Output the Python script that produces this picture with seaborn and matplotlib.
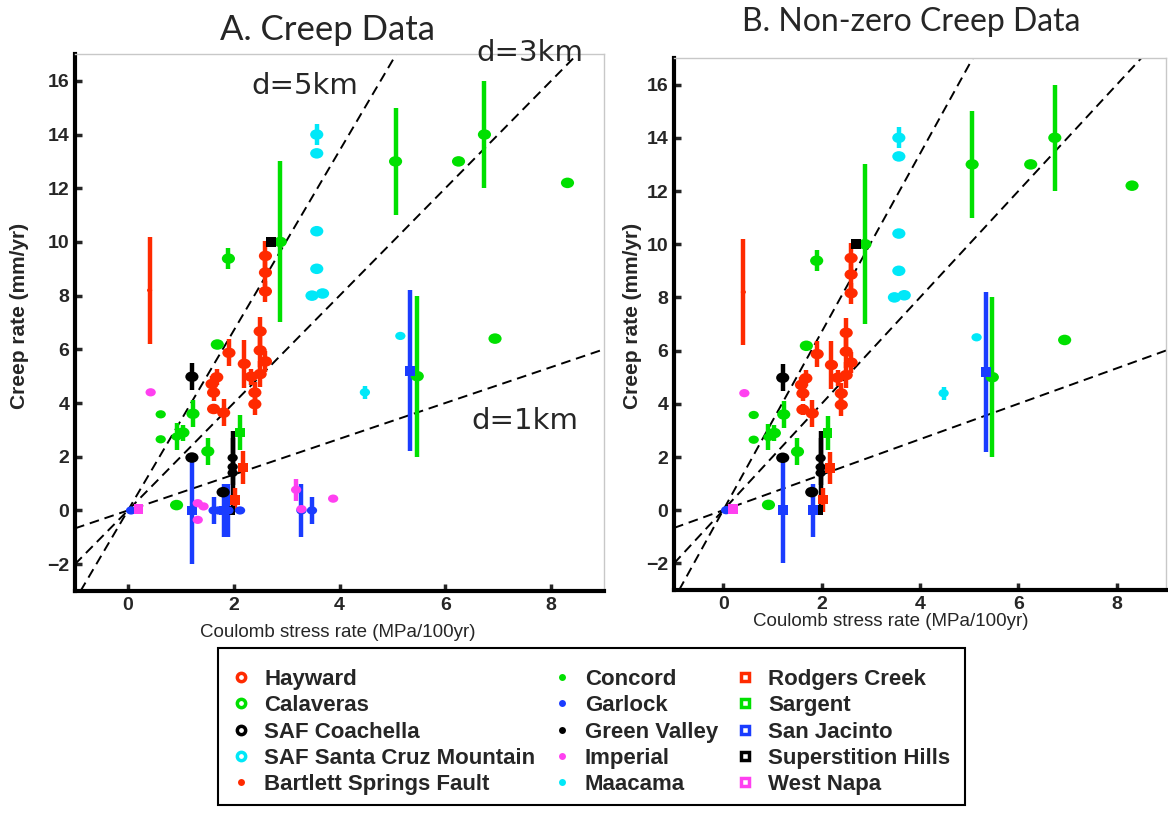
import matplotlib
matplotlib.use("Agg")
import matplotlib.pyplot as plt
from matplotlib.lines import Line2D
from matplotlib.path import Path
from matplotlib.patches import Rectangle
import seaborn as sns
import pandas as pd
import numpy as np

# ---------------- data ----------------
FAULT_ORDER = ["Hayward", "Calaveras", "SAF Coachella", "SAF Santa Cruz Mountain",
               "Bartlett Springs Fault", "Concord", "Garlock", "Green Valley",
               "Imperial", "Maacama", "Rodgers Creek", "Sargent", "San Jacinto",
               "Superstition Hills", "West Napa"]

FAULT = (["Hayward"] * 17
         + ["Calaveras"] * 13
         + ["Concord"] * 3
         + ["Sargent"]
         + ["SAF Coachella"] * 3
         + ["Green Valley"] * 3
         + ["Superstition Hills"] * 2
         + ["SAF Santa Cruz Mountain"] * 6
         + ["Maacama"] * 2
         + ["Bartlett Springs Fault"]
         + ["Rodgers Creek"] * 2
         + ["Garlock"] * 7
         + ["San Jacinto"] * 3
         + ["Imperial"] * 7
         + ["West Napa"])

STRESS_RATE = ([2.60, 2.60, 2.60, 2.50, 2.50, 2.60, 2.50, 2.20, 2.33, 1.91, 2.40, 2.40, 1.68, 1.59, 1.62, 1.62, 1.81]
               + [1.90, 2.88, 5.06, 6.25, 6.74, 8.31, 6.94, 5.47, 1.69, 1.23, 1.04, 1.51, 0.92]
               + [0.62, 0.62, 0.92]
               + [2.12]
               + [1.21, 1.21, 1.80]
               + [1.98, 1.98, 1.98]
               + [2.70, 1.93]
               + [3.57, 3.57, 3.57, 3.57, 3.48, 3.68]
               + [5.15, 4.48]
               + [0.41]
               + [2.17, 2.03]
               + [0.06, 1.62, 1.71, 1.90, 2.12, 3.28, 3.48]
               + [1.21, 1.82, 5.34]
               + [0.43, 1.32, 1.43, 1.32, 3.18, 3.28, 3.88]
               + [0.20])

CREEP_RATE = ([9.48, 8.86, 8.16, 6.67, 5.96, 5.55, 5.08, 5.46, 4.98, 5.87, 4.39, 3.96, 4.96, 4.71, 4.39, 3.78, 3.64]
              + [9.38, 10.0, 13.0, 13.0, 14.0, 12.2, 6.4, 5.0, 6.18, 3.6, 2.9, 2.2, 0.2]
              + [3.58, 2.65, 2.75]
              + [2.9]
              + [4.98, 1.97, 0.68]
              + [1.96, 1.62, 1.40]
              + [10.0, 0.0]
              + [14.0, 13.3, 10.4, 9.0, 8.0, 8.08]
              + [6.5, 4.4]
              + [8.2]
              + [1.6, 0.4]
              + [0.0, 0.0, 0.0, 0.0, 0.0, 0.0, 0.0]
              + [0.0, 0.0, 5.2]
              + [4.4, 0.27, 0.15, -0.35, 0.77, 0.05, 0.44]
              + [0.05])

CREEP_ERR = ([0.55, 0.5, 0.4, 0.55, 0.6, 0.4, 0.5, 0.9, 0.3, 0.5, 0.4, 0.4, 0.3, 0.3, 0.3, 0.2, 0.5]
             + [0.4, 3.0, 2.0, 0.0, 2.0, 0.0, 0.0, 3.0, 0.0, 0.5, 0.3, 0.5, 0.0]
             + [0.0, 0.0, 0.5]
             + [0.65]
             + [0.5, 0.0, 0.0]
             + [1.0, 0.0, 1.3]
             + [0.0, 0.0]
             + [0.4, 0.0, 0.0, 0.0, 0.0, 0.0]
             + [0.0, 0.25]
             + [2.0]
             + [0.6, 0.45]
             + [0.0, 0.5, 0.0, 1.0, 0.0, 1.0, 0.5]
             + [2.0, 1.0, 3.0]
             + [0.0, 0.0, 0.0, 0.0, 0.4, 0.0, 0.0]
             + [0.0])

# 1 = kept in panel B (non-zero creep data)
IN_NONZERO = ([1] * 17 + [1] * 13 + [1] * 3 + [1] + [1] * 3 + [1] * 3 + [1] * 2
              + [1] * 6 + [1] * 2 + [1] + [1] * 2
              + [1, 0, 0, 0, 0, 0, 0]
              + [1, 1, 1]
              + [1, 0, 0, 0, 0, 0, 0]
              + [1])

LINE_SLOPES = [3.35, 2.0, 0.667]
LINE_LABELS = ["d=5km", "d=3km", "d=1km"]
LINE_LABEL_POS_X = [3.35, 7.6, 7.5]
LINE_LABEL_POS_Y = [15.8, 17.05, 3.35]

X_TICKS = [0, 2, 4, 6, 8]
Y_TICKS = [-2, 0, 2, 4, 6, 8, 10, 12, 14, 16]

# ---------------- styles ----------------
RED, GREEN, BLACK, CYAN, BLUE, MAGENTA = "#FF2A00", "#00E000", "#000000", "#00E8F8", "#1A3CFF", "#FF40F0"
PALETTE = {"Hayward": RED, "Calaveras": GREEN, "SAF Coachella": BLACK,
           "SAF Santa Cruz Mountain": CYAN, "Bartlett Springs Fault": RED,
           "Concord": GREEN, "Garlock": BLUE, "Green Valley": BLACK,
           "Imperial": MAGENTA, "Maacama": CYAN, "Rodgers Creek": RED,
           "Sargent": GREEN, "San Jacinto": BLUE, "Superstition Hills": BLACK,
           "West Napa": MAGENTA}
KIND = {f: "circle" for f in FAULT_ORDER[:4]}
KIND.update({f: "dot" for f in FAULT_ORDER[4:10]})
KIND.update({f: "square" for f in FAULT_ORDER[10:]})
KIND["Bartlett Springs Fault"] = "tiny"
ELLIPSE = Path(Path.unit_circle().vertices * np.array([1.25, 1.0]), Path.unit_circle().codes)
MARKERS = {f: ("s" if KIND[f] == "square" else ELLIPSE) for f in FAULT_ORDER}
SIZES = {"circle": 90, "dot": 55, "square": 50, "tiny": 14}

sns.set_theme(style="white")
plt.rcParams["font.family"] = ["Liberation Sans", "DejaVu Sans"]

df = pd.DataFrame({"fault": FAULT, "x": STRESS_RATE, "y": CREEP_RATE,
                   "err": CREEP_ERR, "nz": IN_NONZERO})
df["kind"] = df["fault"].map(KIND)

W, H = 1168, 813
fig = plt.figure(figsize=(W / 100, H / 100), dpi=100)
axA = fig.add_axes([75 / W, 1 - 591 / H, (604 - 75) / W, (591 - 54) / H])
axB = fig.add_axes([674 / W, 1 - 590 / H, (1166 - 674) / W, (590 - 58) / H])


def draw(ax, d, labels):
    ax.set_xlim(-1, 9)
    ax.set_ylim(-3, 17)
    for s in LINE_SLOPES:
        ax.axline((0, 0), slope=s, color="black", lw=1.4, linestyle=(0, (5, 3)), zorder=1)
    de = d[d["err"] > 0]
    for _, r in de.iterrows():
        ax.errorbar(r["x"], r["y"], yerr=r["err"], fmt="none",
                    ecolor=PALETTE[r["fault"]], elinewidth=3.2, capsize=0, zorder=2)
    sns.scatterplot(data=d, x="x", y="y", hue="fault", style="fault", size="kind",
                    palette=PALETTE, markers=MARKERS, sizes=SIZES, linewidth=0,
                    legend=False, ax=ax, zorder=3)
    if labels:
        for lab, lx, ly in zip(LINE_LABELS, LINE_LABEL_POS_X, LINE_LABEL_POS_Y):
            ax.text(lx, ly, lab, fontsize=21, ha="center", va="center",
                    family=["DejaVu Sans"], clip_on=False, zorder=5)
    ax.set_xticks(X_TICKS)
    ax.set_yticks(Y_TICKS)
    ax.set_xlabel("")
    ax.set_ylabel("")
    ax.tick_params(axis="both", direction="in", length=5, width=2.5,
                   labelsize=14, bottom=True, left=True, top=False, right=False, pad=4)
    for t in ax.get_xticklabels() + ax.get_yticklabels():
        t.set_fontweight("bold")
    for side in ["left", "bottom"]:
        ax.spines[side].set_color("black")
        ax.spines[side].set_linewidth(3)
    for side in ["top", "right"]:
        ax.spines[side].set_color("#C8C8C8")
        ax.spines[side].set_linewidth(1)
    ax.grid(False)


draw(axA, df, True)
draw(axB, df[df["nz"] == 1], False)

TITLE_FONT = ["Lato", "DejaVu Sans"]
fig.text(328 / W, 1 - 30 / H, "A. Creep Data", fontsize=25, ha="center", va="center", family=TITLE_FONT)
fig.text(911 / W, 1 - 22 / H, "B. Non-zero Creep Data", fontsize=23, ha="center", va="center", family=TITLE_FONT)

for xl, yl in [(20, 316), (633, 316)]:
    fig.text(xl / W, 1 - yl / H, "Creep rate (mm/yr)", rotation=90, fontsize=15,
             fontweight="bold", ha="center", va="center")
fig.text(338 / W, 1 - 632 / H, "Coulomb stress rate (MPa/100yr)", fontsize=13.5,
         ha="center", va="center")
fig.text(891 / W, 1 - 622 / H, "Coulomb stress rate (MPa/100yr)", fontsize=13.5,
         ha="center", va="center")

# legend
handles = []
for f in FAULT_ORDER:
    k = KIND[f]
    c = PALETTE[f]
    if k == "circle":
        h = Line2D([], [], ls="none", marker="o", markersize=6, markerfacecolor="white",
                   markeredgecolor=c, markeredgewidth=2.5)
    elif k in ("dot", "tiny"):
        h = Line2D([], [], ls="none", marker="o", markersize=5, markerfacecolor=c,
                   markeredgecolor=c, markeredgewidth=0)
    else:
        h = Line2D([], [], ls="none", marker="s", markersize=6, markerfacecolor="white",
                   markeredgecolor=c, markeredgewidth=2.5)
    handles.append(h)

fig.patches.append(Rectangle((218 / W, 1 - 805 / H), (965 - 218) / W, (805 - 648) / H,
                             transform=fig.transFigure, fill=False, edgecolor="black",
                             linewidth=1.5, zorder=1))
leg = fig.legend(handles, FAULT_ORDER, ncol=3, loc="center",
                 bbox_to_anchor=(591 / W, 1 - 732 / H),
                 prop={"weight": "bold", "size": 16}, frameon=False,
                 handlelength=0.8, handletextpad=0.65,
                 columnspacing=0.79, labelspacing=0.24, borderpad=0.3)

fig.savefig("out.png", dpi=100)
